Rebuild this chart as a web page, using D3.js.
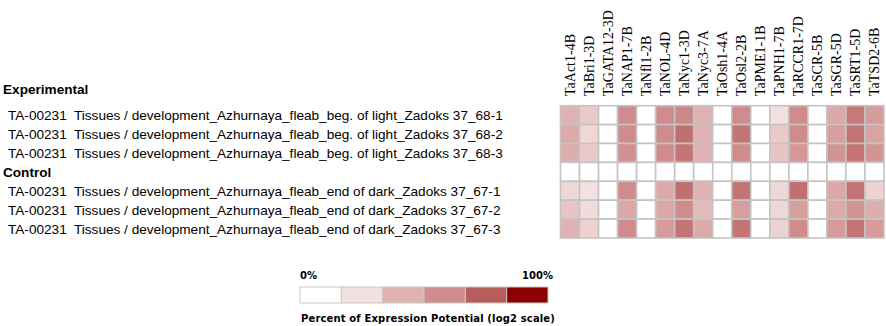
<!DOCTYPE html>
<html>
<head>
<meta charset="utf-8">
<script src="https://cdn.jsdelivr.net/npm/d3@7"></script>
<style>
  body { margin: 0; background: #fff; }
  svg { display: block; }
</style>
</head>
<body>
<div id="chart"></div>
<script>
// genes across the top
const genes = ["TaAct1-4B", "TaBri1-3D", "TaGATA12-3D", "TaNAP1-7B", "TaNfl1-2B", "TaNOL-4D",
  "TaNyc1-3D", "TaNyc3-7A", "TaOsh1-4A", "TaOsl2-2B", "TaPME1-1B", "TaPNH1-7B",
  "TaRCCR1-7D", "TaSCR-5B", "TaSGR-5D", "TaSRT1-5D", "TaTSD2-6B"];

const sampleName = "TA-00231\u00a0 Tissues / development_Azhurnaya_fleab_";
const expRows = ["beg. of light_Zadoks 37_68-1", "beg. of light_Zadoks 37_68-2", "beg. of light_Zadoks 37_68-3"];
const ctrlRows = ["end of dark_Zadoks 37_67-1", "end of dark_Zadoks 37_67-2", "end of dark_Zadoks 37_67-3"];

// percent of expression potential, one array per sample row
const exp1 = [40, 30, 0, 60, 0, 60, 62, 40, 0, 60, 0, 20, 60, 0, 46, 68, 52];
const exp2 = [44, 24, 0, 60, 0, 60, 72, 40, 0, 70, 0, 30, 60, 0, 50, 70, 48];
const exp3 = [42, 30, 0, 58, 0, 60, 70, 40, 0, 60, 0, 32, 54, 0, 56, 70, 56];
const ctrlHeader = genes.map(() => 0);
const ctrl1 = [24, 20, 0, 60, 0, 44, 72, 40, 0, 70, 0, 24, 72, 0, 46, 70, 26];
const ctrl2 = [32, 22, 0, 46, 0, 46, 60, 36, 0, 50, 0, 24, 50, 0, 44, 56, 42];
const ctrl3 = [40, 26, 0, 60, 0, 52, 70, 44, 0, 70, 0, 26, 60, 0, 52, 70, 52];

const legendStops = [0, 20, 40, 60, 80, 100];
const legendColors = ["#ffffff", "#f3e0e0", "#e0b2b2", "#d08c8c", "#b85c5c", "#8b0000"];

const width = 886, height = 326;

const svg = d3.select("#chart").append("svg")
    .attr("width", width)
    .attr("height", height);

// grid rows: 3 experimental, blank control header row, 3 control
const gridRows = [
  {key: "e1", label: sampleName + expRows[0], values: exp1},
  {key: "e2", label: sampleName + expRows[1], values: exp2},
  {key: "e3", label: sampleName + expRows[2], values: exp3},
  {key: "ch", label: "Control", header: true, values: ctrlHeader},
  {key: "c1", label: sampleName + ctrlRows[0], values: ctrl1},
  {key: "c2", label: sampleName + ctrlRows[1], values: ctrl2},
  {key: "c3", label: sampleName + ctrlRows[2], values: ctrl3}
];

const x = d3.scaleBand().domain(genes).range([560.5, 884]).padding(0);
const y = d3.scaleBand().domain(gridRows.map(d => d.key)).range([105.7, 238]).padding(0);

const color = d3.scaleLinear().domain(legendStops).range(legendColors);

// cells
const cells = [];
gridRows.forEach(r => r.values.forEach((v, i) => cells.push({row: r.key, gene: genes[i], v: v})));

svg.append("g").selectAll("rect")
  .data(cells)
  .enter()
  .append("rect")
    .attr("x", d => x(d.gene))
    .attr("y", d => y(d.row))
    .attr("width", x.bandwidth())
    .attr("height", y.bandwidth())
    .style("fill", d => color(d.v))
    .style("stroke", "#c4c4c4")
    .style("stroke-width", 1.6);

// gene labels (rotated)
svg.append("g").selectAll("text")
  .data(genes)
  .enter()
  .append("text")
    .attr("transform", d => `translate(${x(d) + x.bandwidth() / 2 + 5}, 96) rotate(-90)`)
    .text(d => d)
    .style("font-family", "'Liberation Serif', 'Times New Roman', serif")
    .style("font-size", "14px")
    .style("fill", "#000");

// row labels
const labelFont = "'Liberation Sans', Arial, sans-serif";
svg.append("text")
    .attr("x", 3)
    .attr("y", y("e1") - 12)
    .text("Experimental")
    .style("font-family", labelFont)
    .style("font-size", "13.6px")
    .style("font-weight", "bold");

svg.append("g").selectAll("text")
  .data(gridRows)
  .enter()
  .append("text")
    .attr("x", d => d.header ? 3 : 8)
    .attr("y", d => y(d.key) + y.bandwidth() / 2 + 5)
    .text(d => d.label)
    .style("font-family", labelFont)
    .style("font-size", "13.6px")
    .style("font-weight", d => d.header ? "bold" : "normal");

// legend
const lx = d3.scaleBand().domain(d3.range(legendColors.length)).range([300, 548]);
const legend = svg.append("g");

legend.selectAll("rect")
  .data(legendColors)
  .enter()
  .append("rect")
    .attr("x", (d, i) => lx(i))
    .attr("y", 287)
    .attr("width", lx.bandwidth())
    .attr("height", 16)
    .style("fill", d => d)
    .style("stroke", "#c8c8c8")
    .style("stroke-width", 1);

const legendFont = "'DejaVu Sans', Verdana, sans-serif";
legend.append("text")
    .attr("x", 300).attr("y", 279)
    .text("0%")
    .style("font-family", legendFont).style("font-size", "10px").style("font-weight", "bold");

legend.append("text")
    .attr("x", 553).attr("y", 279)
    .attr("text-anchor", "end")
    .text("100%")
    .style("font-family", legendFont).style("font-size", "10px").style("font-weight", "bold");

legend.append("text")
    .attr("x", 301).attr("y", 322)
    .text("Percent of Expression Potential (log2 scale)")
    .style("font-family", legendFont).style("font-size", "10px").style("font-weight", "bold")
    .style("letter-spacing", "0.15px");
</script>
</body>
</html>
